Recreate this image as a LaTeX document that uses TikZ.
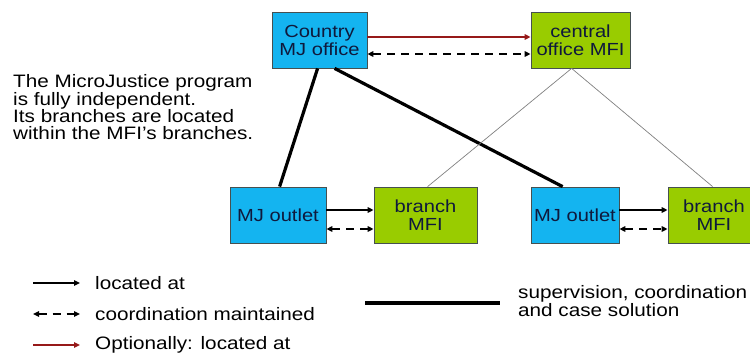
\documentclass[tikz,border=0pt]{standalone}
\usepackage{fontspec}
\setmainfont[FakeStretch=1.15]{Liberation Sans}
\usetikzlibrary{arrows.meta,calc}
\definecolor{mjblue}{RGB}{20,180,240}
\definecolor{mfigreen}{RGB}{153,204,0}
\definecolor{boxline}{RGB}{70,80,80}
\definecolor{boxtext}{RGB}{15,25,60}
\definecolor{optred}{RGB}{150,25,25}
\begin{document}
\begin{tikzpicture}[x=1pt,y=-1pt,
  box/.style={draw=boxline,line width=0.8pt,minimum height=56pt,inner sep=0pt,align=center,text=boxtext,font=\fontsize{17.5}{18}\selectfont},
  mjbox/.style={box,fill=mjblue},
  mfibox/.style={box,fill=mfigreen},
  locarrow/.style={line width=1.6pt,-{Triangle[length=6pt,width=5.5pt]}},
  coordarrow/.style={line width=1.6pt,dash pattern=on 8pt off 6pt,{Triangle[length=6pt,width=5.5pt]}-{Triangle[length=6pt,width=5.5pt]}},
  optarrow/.style={locarrow,draw=optred},
  superline/.style={line width=3.2pt},
  thinline/.style={line width=0.7pt,draw=gray},
  lbl/.style={anchor=west,inner sep=0pt,font=\fontsize{18}{16.5}\selectfont}]
\useasboundingbox (0,0) rectangle (750,356);

% boxes
\node[mjbox,minimum width=95pt] (cmj) at (319.5,40) {Country\\MJ office};
\node[mfibox,minimum width=99pt] (cmfi) at (580.5,40) {central\\office MFI};
\node[mjbox,minimum width=96pt] (mjl) at (278,215) {MJ outlet};
\node[mfibox,minimum width=103pt] (bl) at (425.5,215) {branch\\MFI};
\node[mjbox,minimum width=88pt] (mjr) at (575,215) {MJ outlet};
\node[mfibox,minimum width=92pt] (br) at (714,215) {branch\\MFI};

% top connectors
\draw[optarrow] ($(cmj.east)+(0,-3)$) -- ($(cmfi.west)+(0,-3)$);
\draw[coordarrow] ($(cmj.east)+(0,14)$) -- ($(cmfi.west)+(0,14)$);

% bottom connectors
\draw[locarrow] ($(mjl.east)+(0,-5)$) -- ($(bl.west)+(0,-5)$);
\draw[coordarrow] ($(mjl.east)+(0,14)$) -- ($(bl.west)+(0,14)$);
\draw[locarrow] ($(mjr.east)+(0,-5)$) -- ($(br.west)+(0,-5)$);
\draw[coordarrow] ($(mjr.east)+(0,14)$) -- ($(br.west)+(0,14)$);

% supervision lines
\draw[superline] ($(cmj.south west)+(46,0)$) -- ($(mjl.north west)+(50,0)$);
\draw[superline] ($(cmj.south west)+(63,0)$) -- ($(mjr.north west)+(32,0)$);

% thin lines
\draw[thinline] ($(cmfi.south west)+(41,0)$) -- ($(bl.north west)+(54,0)$);
\draw[thinline] ($(cmfi.south west)+(41,0)$) -- ($(br.north west)+(45,0)$);

% side text
\node[lbl,align=left] (note) at (13,107) {The MicroJustice program\\is fully independent.\\Its branches are located\\within the MFI’s branches.};

% legend
\coordinate (l1a) at (33,283); \coordinate (l1b) at (80,283);
\coordinate (l2a) at (33,314); \coordinate (l2b) at (80,314);
\coordinate (l3a) at (33,345); \coordinate (l3b) at (80,345);
\draw[locarrow] (l1a) -- (l1b);
\draw[coordarrow] (l2a) -- (l2b);
\draw[optarrow] (l3a) -- (l3b);
\node[lbl] (t1) at (95,283) {located at};
\node[lbl] (t2) at (95,314) {coordination maintained};
\node[lbl] (t3) at (95,345) {Optionally: located at};
\coordinate (s1) at (365,303); \coordinate (s2) at (500,303);
\draw[superline] (s1) -- (s2);
\node[lbl,align=left] (t4) at (518,301) {supervision, coordination\\and case solution};
\end{tikzpicture}
\end{document}
